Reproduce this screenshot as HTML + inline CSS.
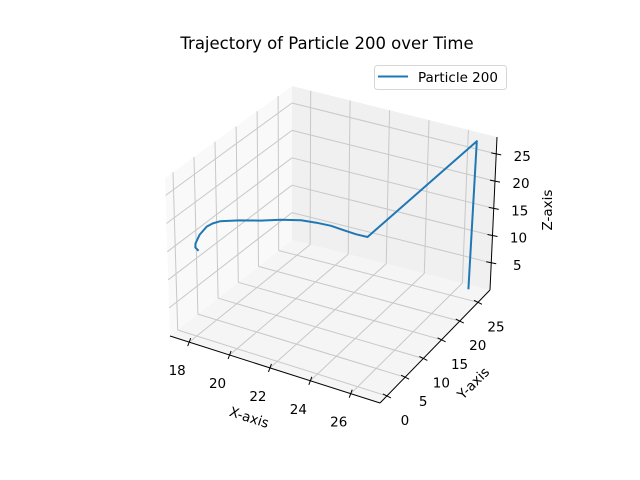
<!DOCTYPE html>
<html><head><meta charset="utf-8"><style>
html,body{margin:0;padding:0;background:#fff;}
svg{display:block;font-family:"DejaVu Sans","Liberation Sans",sans-serif;}
</style></head><body>
<svg id="chart" width="640" height="480" viewBox="0 0 640 480">
<rect width="640" height="480" fill="#fff"/>
<text x="327" y="49" text-anchor="middle" font-size="16.5" fill="#000">Trajectory of Particle 200 over Time</text>
<g id="panes"></g><g id="grid"></g><g id="axes"></g><g id="series"></g>
<text x="249" y="422" text-anchor="middle" font-size="13.5" transform="rotate(18 249 418)">X-axis</text>
<text x="473" y="388" text-anchor="middle" font-size="13.5" transform="rotate(-45 473 383)">Y-axis</text>
<text x="547" y="215" text-anchor="middle" font-size="13.5" transform="rotate(-90 547 210)">Z-axis</text>
<g>
<rect x="374.5" y="65.5" width="132" height="24" rx="3" fill="#fff" stroke="#d6d6d6"/>
<line x1="378" y1="76.5" x2="408" y2="76.5" stroke="#1f77b4" stroke-width="2"/>
<text x="418" y="82" font-size="13.5">Particle 200</text>
</g>
</svg>
<script>
var xTicks=[18,20,22,24,26];
var yTicks=[0,5,10,15,20,25];
var zTicks=[5,10,15,20,25];
var xs=[17.34,17.12,17.07,17.10,17.27,17.45,17.68,18.4,19.21,19.9,20.62,21.15,21.64,22.05,22.42,22.78,26.72,26.6];
var ys=[4.14,4.45,4.74,5.65,6.56,7.1,7.76,8.9,10.18,11.7,13.20,14.4,15.62,16.8,18.03,19.24,26.79,26.79];
var zs=[12.1,12.3,12.8,13.9,15.0,15.45,15.7,15.95,16.0,15.95,15.7,15.1,14.3,13.2,12.1,11.2,27.6,0.4];
var XR=[17.05,27.45],YR=[-1.9,28.3],ZR=[0,28.1];
var C={"000":[170,336],"100":[380,403],"010":[292,240],"110":[490,290],
"001":[165,178],"101":[383,238],"011":[292,86],"111":[497,137]};
function P(x,y,z){
 var u=(x-XR[0])/(XR[1]-XR[0]),v=(y-YR[0])/(YR[1]-YR[0]),w=(z-ZR[0])/(ZR[1]-ZR[0]);
 var r=[0,0];
 for(var a=0;a<2;a++)for(var b=0;b<2;b++)for(var c=0;c<2;c++){
  var wt=(a?u:1-u)*(b?v:1-v)*(c?w:1-w);var p=C[""+a+b+c];
  r[0]+=wt*p[0];r[1]+=wt*p[1];}
 return r;}
var NS="http://www.w3.org/2000/svg";
function el(t,at,par){var e=document.createElementNS(NS,t);for(var k in at)e.setAttribute(k,at[k]);document.getElementById(par).appendChild(e);return e;}
function poly(pts){return pts.map(function(p){return p[0].toFixed(1)+","+p[1].toFixed(1);}).join(" ");}
var X0=XR[0],X1=XR[1],Y0=YR[0],Y1=YR[1],Z0=ZR[0],Z1=ZR[1];
var e;
e=el("polygon",{points:poly([P(X0,Y0,Z0),P(X1,Y0,Z0),P(X1,Y1,Z0),P(X0,Y1,Z0)]),fill:"#f5f5f5"},"panes");


e=el("polygon",{points:poly([P(X0,Y0,Z0),P(X0,Y1,Z0),P(X0,Y1,Z1),P(X0,Y0,Z1)]),fill:"#f9f9f9"},"panes");


e=el("polygon",{points:poly([P(X0,Y1,Z0),P(X1,Y1,Z0),P(X1,Y1,Z1),P(X0,Y1,Z1)]),fill:"#f0f0f0"},"panes");


function gl(a,b,name){var e=el("polyline",{points:poly([a,b]),stroke:"#c8c8c8","stroke-width":"1",fill:"none"},"grid");
 
 }
xTicks.forEach(function(t){gl(P(t,Y0,Z0),P(t,Y1,Z0),"x-grid-floor");gl(P(t,Y1,Z0),P(t,Y1,Z1),"x-grid-back");});
yTicks.forEach(function(t){gl(P(X0,t,Z0),P(X1,t,Z0),"y-grid-floor");gl(P(X0,t,Z0),P(X0,t,Z1),"y-grid-left");});
zTicks.forEach(function(t){gl(P(X0,Y0,t),P(X0,Y1,t),"z-grid-left");gl(P(X0,Y1,t),P(X1,Y1,t),"z-grid-back");});
function axl(a,b,name){var e=el("polyline",{points:poly([a,b]),stroke:"#000","stroke-width":"1",fill:"none"},"axes");
 
 }
axl(P(X0,Y0,Z0),P(X1,Y0,Z0),"x-axis-line");
axl(P(X1,Y0,Z0),P(X1,Y1,Z0),"y-axis-line");
axl(P(X1,Y1,Z0),P(X1,Y1,Z1),"z-axis-line");
function tick(p,d,off,lab,name){
 var e=el("line",{x1:p[0]-d[0],y1:p[1]-d[1],x2:p[0]+d[0],y2:p[1]+d[1],stroke:"#000","stroke-width":"1"},"axes");
 
 
 var t=el("text",{x:p[0]+off[0],y:p[1]+off[1]+5,"text-anchor":"middle","font-size":"13.5",fill:"#000"},"axes");
 t.textContent=lab;
 
 }
xTicks.forEach(function(t){tick(P(t,Y0,Z0),[-1.5,4],[-12,28],t,"x");});
yTicks.forEach(function(t){tick(P(X1,t,Z0),[4,2],[18,24],t,"y");});
zTicks.forEach(function(t){tick(P(X1,Y1,t),[5,1],[26,2],t,"z");});
var pts=xs.map(function(x,i){return P(x,ys[i],zs[i]);});
e=el("polyline",{points:poly(pts),stroke:"#1f77b4","stroke-width":"2",fill:"none","stroke-linejoin":"round"},"series");


</script>
</body></html>
